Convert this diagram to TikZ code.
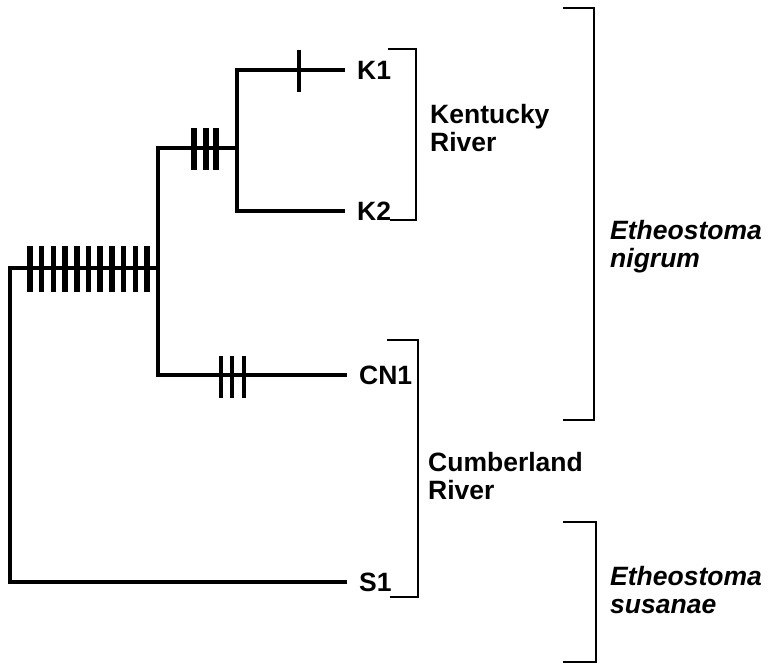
\documentclass[tikz,border=0pt]{standalone}
\usepackage{fontspec}
\setmainfont{Liberation Sans}
\begin{document}
\begin{tikzpicture}[x=1pt,y=-1pt,
  branch/.style={line width=4.3pt, line join=miter, line cap=rect},
  tickmark/.style={line width=5.5pt},
  thintick/.style={line width=4pt},
  brace/.style={line width=2.2pt, line join=miter},
  leaf/.style={font=\fontsize{26.5}{28}\selectfont\bfseries, anchor=west, inner xsep=14pt, inner ysep=0pt},
  grp/.style={font=\fontsize{26.5}{27.5}\selectfont\bfseries, anchor=west, align=left, inner sep=0pt},
  sp/.style={font=\fontsize{26.5}{28}\selectfont\bfseries\itshape, anchor=west, align=left, inner sep=0pt}]
\useasboundingbox (0,0) rectangle (771,668);
% leaves
\node[leaf] (K1) at (343,70) {K1};
\node[leaf] (K2) at (343,211) {K2};
\node[leaf] (CN1) at (345,375) {CN1};
\node[leaf] (S1) at (345,582) {S1};
% internal nodes
\coordinate (n0) at (10,268);
\coordinate (n1) at (158,268);
\coordinate (n1t) at (158,148);
\coordinate (n2) at (237,148);
% tree
\draw[branch] (S1.west) -| (n0) -- (n1);
\draw[branch] (CN1.west) -| (n1t) -- (n2);
\draw[branch] (K1.west) -| (n2) |- (K2.west);
% ticks
\foreach \x in {30,41.7,53.4,65.1,76.8,88.5,100.2,111.9,123.6,135.3,147} \draw[tickmark] (\x,246) -- (\x,292);
\foreach \x in {194,206,216} \draw[tickmark] (\x,128) -- (\x,170);
\foreach \x in {221,232,244} \draw[thintick] (\x,356) -- (\x,398);
\draw[thintick] (299,50) -- (299,92);
% group labels
\node[grp] (KR) at (430,128) {Kentucky\\River};
\node[grp] (CR) at (428,476) {Cumberland\\River};
\node[sp] (EN) at (610,247) {Etheostoma\\nigrum};
\node[sp] (ES) at (610,590) {Etheostoma\\susanae};
% brackets
\draw[brace] (388,49) -- (416,49) -- (416,220) -- (390,220);
\draw[brace] (387,340) -- (418,340) -- (418,597) -- (390,597);
\draw[brace] (563,8) -- (594,8) -- (594,420) -- (563,420);
\draw[brace] (563,522) -- (596,522) -- (596,662) -- (563,662);
\end{tikzpicture}
\end{document}
